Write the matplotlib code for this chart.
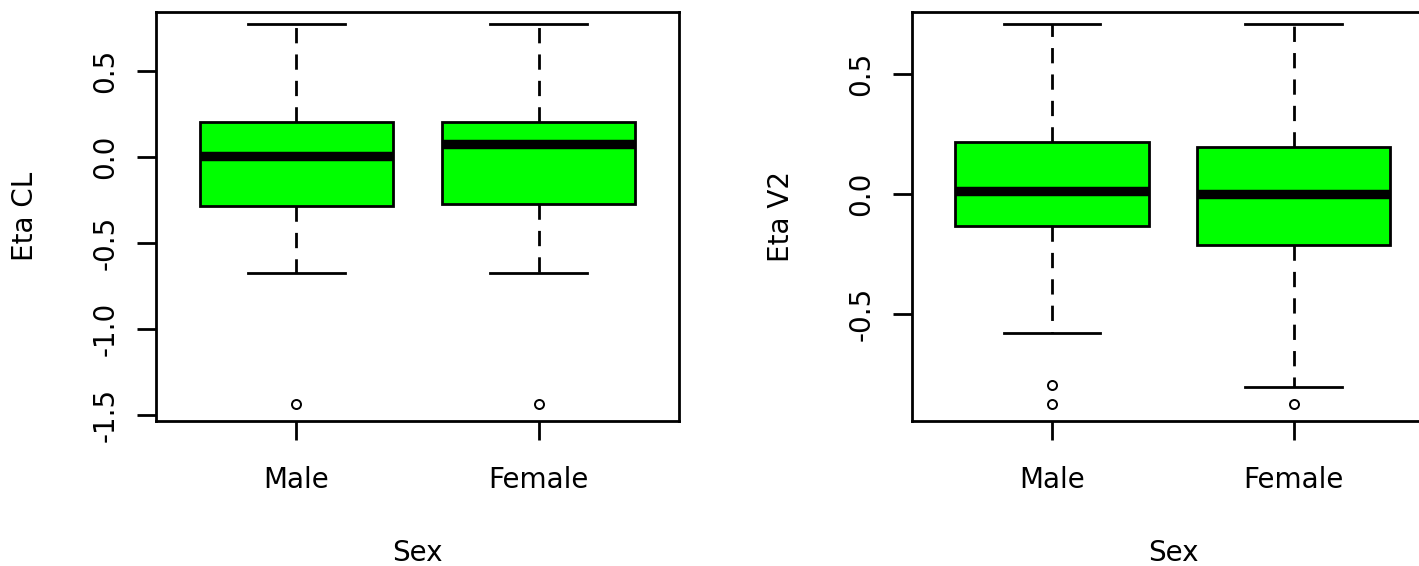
import numpy as np
from matplotlib import pyplot as plt

sexo = ['Male', 'Female']

# Eta CL por sexo
cl_q1 = [-0.285, -0.273]
cl_med = [0.006, 0.076]
cl_q3 = [0.203, 0.205]
cl_lo = [-0.674, -0.674]
cl_hi = [0.773, 0.773]
cl_out = [[-1.436], [-1.436]]

# Eta V2 por sexo
v2_q1 = [-0.133, -0.2125]
v2_med = [0.0125, 0.0]
v2_q3 = [0.218, 0.196]
v2_lo = [-0.58, -0.803]
v2_hi = [0.708, 0.708]
v2_out = [[-0.796, -0.875], [-0.875]]

W, H = 1419, 566
fig = plt.figure(figsize=(W/100, H/100), dpi=100)
plt.rcParams['font.family'] = 'DejaVu Sans'
fs = 20
lw = 2.0

def caja(ax, q1, med, q3, lo, hi, out, ylim, yticks):
    stats = []
    for i in range(len(sexo)):
        stats.append(dict(med=med[i], q1=q1[i], q3=q3[i], whislo=lo[i],
                          whishi=hi[i], fliers=np.array(out[i]), label=sexo[i]))
    ax.bxp(stats, positions=[1, 2], widths=0.8, capwidths=0.4, patch_artist=True,
           boxprops=dict(facecolor='#00ff00', edgecolor='black', linewidth=lw),
           medianprops=dict(color='black', linewidth=6.8, solid_capstyle='butt'),
           whiskerprops=dict(color='black', linewidth=lw, linestyle=(0, (5.5, 4))),
           capprops=dict(color='black', linewidth=lw),
           flierprops=dict(marker='o', markersize=6.5, markerfacecolor='none',
                           markeredgecolor='black', markeredgewidth=1.4))
    ax.set_xlim(0.42, 2.58)
    ax.set_ylim(*ylim)
    ax.set_yticks(yticks)
    ax.set_yticklabels([f'{t:.1f}' for t in yticks], rotation=90, va='center')
    ax.set_xticks([1, 2])
    ax.set_xticklabels(sexo)
    ax.tick_params(axis='both', length=13.5, width=lw, labelsize=fs)
    ax.tick_params(axis='x', pad=19)
    ax.tick_params(axis='y', pad=13)
    for s in ax.spines.values():
        s.set_linewidth(lw)

def px(x0, y0, x1, y1):
    return [x0/W, 1 - y1/H, (x1 - x0)/W, (y1 - y0)/H]

ax1 = fig.add_axes(px(156, 12, 679, 421))
caja(ax1, cl_q1, cl_med, cl_q3, cl_lo, cl_hi, cl_out,
     (-1.535, 0.843), [-1.5, -1.0, -0.5, 0.0, 0.5])

ax2 = fig.add_axes(px(912, 12, 1434, 421))
caja(ax2, v2_q1, v2_med, v2_q3, v2_lo, v2_hi, v2_out,
     (-0.946, 0.758), [-0.5, 0.0, 0.5])

# etiquetas de los ejes
fig.text(417/W, 1 - 553/H, 'Sex', ha='center', va='center', fontsize=fs)
fig.text(1173/W, 1 - 553/H, 'Sex', ha='center', va='center', fontsize=fs)
fig.text(25/W, 1 - 216/H, 'Eta CL', ha='center', va='center', rotation=90, fontsize=fs)
fig.text(781/W, 1 - 216/H, 'Eta V2', ha='center', va='center', rotation=90, fontsize=fs)

fig.savefig('out.png', dpi=100)
